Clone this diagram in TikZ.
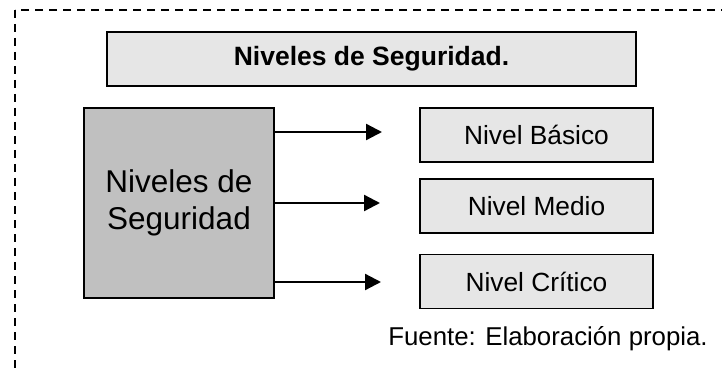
\documentclass[tikz,border=0pt]{standalone}
\usepackage{fontspec}
\setmainfont{Liberation Sans}
\usetikzlibrary{arrows.meta}
\definecolor{lightbox}{HTML}{E6E6E6}
\definecolor{darkbox}{HTML}{C0C0C0}
\begin{document}
\begin{tikzpicture}[x=1pt,y=-1pt,
  frame/.style={draw=black,line width=1.4pt,dash pattern=on 8pt off 6pt},
  box/.style={draw=black,line width=1.4pt,fill=lightbox,inner sep=0pt,align=center},
  levelbox/.style={box,minimum width=233pt,minimum height=54pt,font=\fontsize{26.3}{30}\selectfont},
  arr/.style={line width=2.3pt,-{Triangle[length=16pt,width=16pt]}}]
\useasboundingbox (0,0) rectangle (722,374);
\fill[white] (0,0) rectangle (722,374);
\draw[frame] (15,10) rectangle (760,420);
\node[box,minimum width=529pt,minimum height=54pt,font=\fontsize{26.5}{30}\selectfont\bfseries] (title) at (371.5,59) {Niveles de Seguridad.};
\node[box,fill=darkbox,minimum width=190pt,minimum height=190pt,font=\fontsize{31.5}{37}\selectfont] (big) at (179,203) {Niveles de\\Seguridad};
\node[levelbox] (basico) at (536.5,135) {Nivel Básico};
\node[levelbox] (medio) at (536.5,206) {Nivel Medio};
\node[levelbox] (critico) at (536.5,281.5) {Nivel Crítico};
\coordinate (t1) at (382,132);
\coordinate (t2) at (380,203);
\coordinate (t3) at (381,282);
\draw[arr] (big.east |- t1) -- (t1);
\draw[arr] (big.east |- t2) -- (t2);
\draw[arr] (big.east |- t3) -- (t3);
\node[anchor=base,inner sep=0pt,font=\fontsize{25.8}{30}\selectfont] (fuente) at (548,345) {Fuente: Elaboración propia.};
\end{tikzpicture}
\end{document}
